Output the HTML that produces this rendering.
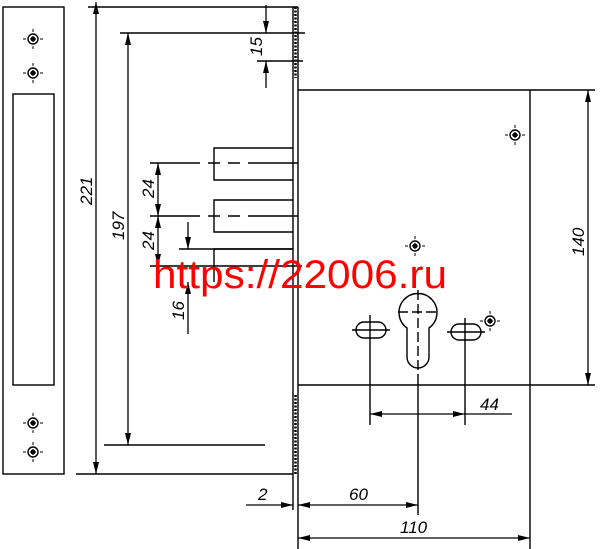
<!DOCTYPE html>
<html><head><meta charset="utf-8"><style>
html,body{margin:0;padding:0;background:#fff;width:600px;height:549px;overflow:hidden}
text{font-family:"Liberation Sans",sans-serif;font-style:italic;font-size:17px;fill:#000}
</style></head><body>
<svg width="600" height="549" viewBox="0 0 600 549" xmlns="http://www.w3.org/2000/svg">
<defs>
<marker id="a" viewBox="0 0 12 6" refX="12" refY="3" markerWidth="14" markerHeight="6" orient="auto-start-reverse" markerUnits="userSpaceOnUse"><path d="M0,0 L12,3 L0,6z" fill="#000"/></marker>
<g id="scr"><circle r="5" fill="none" stroke="#000" stroke-width="1.4"/><circle r="2.5" fill="#000"/><path d="M-10,0h3M7,0h3M0,-10v3M0,7v3M-3,0h6M0,-3v6" stroke="#000" stroke-width="1"/></g>
</defs>
<g fill="none" stroke="#000" stroke-width="1.4">
<rect x="3" y="7" width="61" height="467"/>
<rect x="13" y="94" width="41" height="291"/>
<line x1="293" y1="7" x2="293" y2="510"/>
<line x1="298" y1="7" x2="298" y2="549"/>
<line x1="298" y1="90" x2="595" y2="90"/>
<line x1="298" y1="385" x2="595" y2="385"/>
<line x1="530" y1="90" x2="530" y2="549"/>
<line x1="88" y1="7" x2="298" y2="7"/>
<line x1="120" y1="33" x2="305" y2="33"/>
<line x1="257" y1="61" x2="303" y2="61"/>
<line x1="76" y1="474" x2="293" y2="474"/>
<line x1="104" y1="445" x2="265" y2="445"/>
<path d="M293,148H214V180H293M293,200H214V232H293M293,249H214V282"/>
<line x1="150" y1="163" x2="302" y2="163" stroke-dasharray="50,8,12,8,12,8"/>
<line x1="150" y1="216" x2="302" y2="216" stroke-dasharray="50,8,12,8,12,8"/>
<line x1="179" y1="249" x2="293" y2="249"/>
<line x1="150" y1="266" x2="302" y2="266"/>
<path d="M407,328 A19,19 0 1 1 429,328 V357 A11,11 0 0 1 407,357 Z"/>
<path d="M398,312h40M418,290v90" stroke-dasharray="10,4"/>
<rect x="356" y="322" width="30" height="16" rx="8"/>
<rect x="451" y="324" width="30" height="16" rx="8"/>
<line x1="370" y1="315" x2="370" y2="425"/>
<line x1="465" y1="318" x2="465" y2="425"/>
<line x1="418" y1="380" x2="418" y2="515"/>
<line x1="352" y1="330" x2="390" y2="330"/>
<line x1="447" y1="332" x2="485" y2="332"/>
</g>
<g stroke="#000" stroke-width="2.5" stroke-dasharray="2,1.5">
<line x1="295.5" y1="7" x2="295.5" y2="78"/>
<line x1="295.5" y1="395" x2="295.5" y2="474"/>
</g>
<g stroke="#000" stroke-width="1.3" fill="none">
<line x1="96" y1="2" x2="96" y2="474" marker-start="url(#a)" marker-end="url(#a)"/>
<line x1="128" y1="33" x2="128" y2="445" marker-start="url(#a)" marker-end="url(#a)"/>
<line x1="266" y1="5" x2="266" y2="33" marker-end="url(#a)"/>
<line x1="266" y1="88" x2="266" y2="61" marker-end="url(#a)"/>
<line x1="158" y1="163" x2="158" y2="216" marker-start="url(#a)" marker-end="url(#a)"/>
<line x1="158" y1="216" x2="158" y2="266" marker-start="url(#a)" marker-end="url(#a)"/>
<line x1="188" y1="222" x2="188" y2="249" marker-end="url(#a)"/>
<line x1="188" y1="334" x2="188" y2="282" marker-end="url(#a)"/>
<line x1="588" y1="90" x2="588" y2="385" marker-start="url(#a)" marker-end="url(#a)"/>
<line x1="370" y1="414" x2="465" y2="414" marker-start="url(#a)" marker-end="url(#a)"/>
<line x1="465" y1="414" x2="512" y2="414"/>
<line x1="246" y1="505" x2="293" y2="505" marker-end="url(#a)"/>
<line x1="298" y1="505" x2="418" y2="505" marker-start="url(#a)" marker-end="url(#a)"/>
<line x1="298" y1="538" x2="530" y2="538" marker-start="url(#a)" marker-end="url(#a)"/>
</g>
<use href="#scr" x="33" y="39"/><use href="#scr" x="33" y="73"/>
<use href="#scr" x="33" y="423"/><use href="#scr" x="33" y="452"/>
<use href="#scr" x="415" y="246"/><use href="#scr" x="515" y="135"/><use href="#scr" x="490" y="321"/>
<text transform="translate(92,205) rotate(-90)">221</text>
<text transform="translate(124,240) rotate(-90)">197</text>
<text transform="translate(262,56) rotate(-90)">15</text>
<text transform="translate(154,198) rotate(-90)">24</text>
<text transform="translate(154,250) rotate(-90)">24</text>
<text transform="translate(184,320) rotate(-90)">16</text>
<text transform="translate(584,256) rotate(-90)">140</text>
<text x="480" y="410">44</text>
<text x="258" y="500">2</text>
<text x="349" y="500">60</text>
<text x="400" y="533">110</text>
<text x="153" y="288" textLength="294" lengthAdjust="spacingAndGlyphs" style="font-style:normal;font-size:40px;fill:#f00">https://22006.ru</text>
</svg>
</body></html>
